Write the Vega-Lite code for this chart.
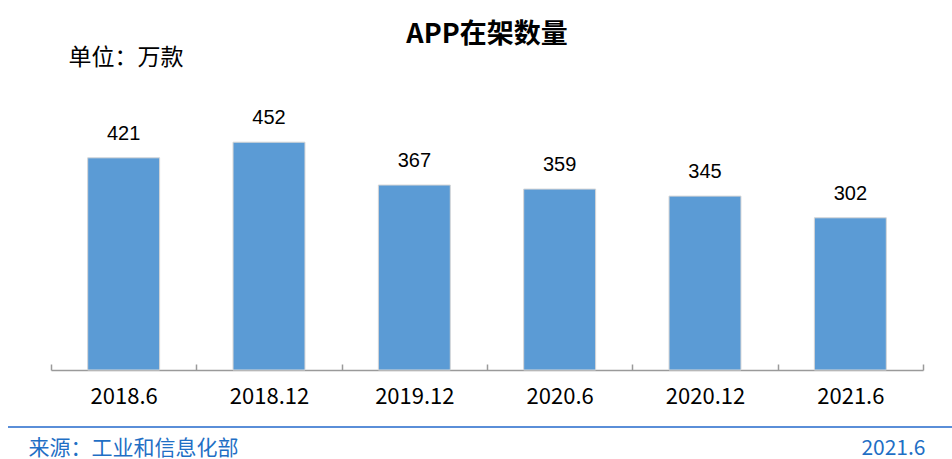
{
  "$schema": "https://vega.github.io/schema/vega-lite/v6.json",
  "width": 872,
  "height": 252,
  "autosize": {"type": "none"},
  "padding": {"left": 51, "top": 118, "right": 29, "bottom": 89},
  "background": "white",
  "title": {"text": "APP在架数量", "font": "Noto Sans CJK SC", "fontSize": 27, "fontWeight": "bold", "color": "#000000", "anchor": "middle", "offset": -24, "baseline": "alphabetic"},
  "config": {"view": {"stroke": null}},
  "data": {"values": [
    {"period": "2018.6", "value": 421},
    {"period": "2018.12", "value": 452},
    {"period": "2019.12", "value": 367},
    {"period": "2020.6", "value": 359},
    {"period": "2020.12", "value": 345},
    {"period": "2021.6", "value": 302}
  ]},
  "layer": [
    {
      "encoding": {
        "x": {"field": "period", "type": "nominal", "sort": null,
          "scale": {"paddingInner": 0, "paddingOuter": 0},
          "axis": {"title": "来源：工业和信息化部", "labelAngle": 0, "labelFont": "Noto Sans CJK SC", "labelFontSize": 22, "labelColor": "#000000", "labelPadding": 22,
            "domainColor": "#9a9a9a", "domainWidth": 1.5, "tickColor": "#9a9a9a", "tickWidth": 1.5, "tickSize": -6, "tickBand": "extent",
            "titleFont": "Noto Sans CJK SC", "titleFontSize": 21, "titleFontWeight": "normal", "titleColor": "#1F6FC5",
            "titleAnchor": "start", "titleAlign": "left", "titleBaseline": "middle", "titleX": -23, "titleY": 78}},
        "y": {"field": "value", "type": "quantitative", "scale": {"domain": [0, 500]},
          "axis": {"title": "单位：万款", "domain": false, "ticks": false, "labels": false, "grid": false,
            "titleAngle": 0, "titleAlign": "left", "titleBaseline": "middle", "titleX": 17, "titleY": -61,
            "titleFont": "Noto Sans CJK SC", "titleFontSize": 23, "titleFontWeight": "normal", "titleColor": "#000000"}}
      },
      "layer": [
        {"mark": {"type": "bar", "width": {"band": 0.495}, "color": "#5B9BD5", "stroke": "#d6d6d6", "strokeWidth": 1}},
        {"mark": {"type": "text", "baseline": "alphabetic", "dy": -18, "font": "Liberation Sans", "fontSize": 20, "color": "#000000"},
          "encoding": {"text": {"field": "value", "type": "quantitative"}}}
      ]
    },
    {
      "data": {"values": [{"note": "2021.6"}]},
      "mark": {"type": "rule", "color": "#5A8ED8", "strokeWidth": 2},
      "encoding": {
        "x": {"datum": 0, "type": "quantitative", "scale": {"domain": [0, 1], "range": [-43, 901]},
          "axis": {"orient": "bottom", "title": "2021.6", "domain": false, "ticks": false, "labels": false, "grid": false, "offset": 57,
            "titleFont": "Noto Sans CJK SC", "titleFontSize": 21, "titleFontWeight": "normal", "titleColor": "#1F6FC5",
            "titleAlign": "right", "titleBaseline": "middle", "titleX": 874, "titleY": 21}},
        "x2": {"datum": 1},
        "y": {"datum": -113, "type": "quantitative", "scale": {"domain": [0, 500]}}
      }
    }
  ],
  "resolve": {"scale": {"x": "independent"}, "axis": {"x": "independent"}}
}
